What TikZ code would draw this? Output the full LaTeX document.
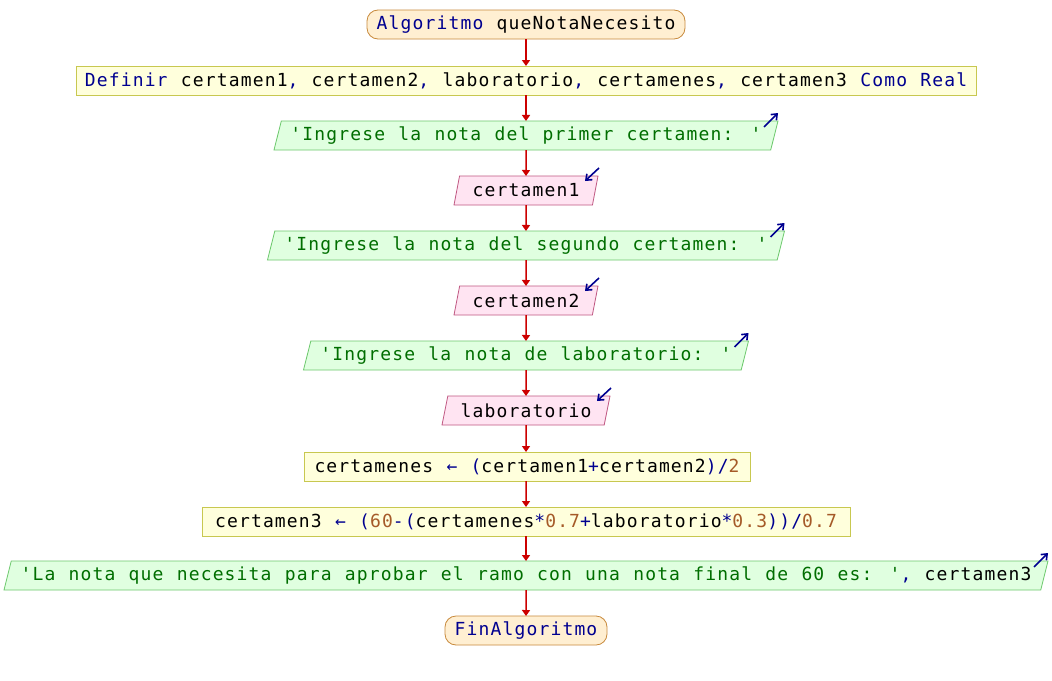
\documentclass[tikz,border=0pt]{standalone}
\usepackage{fontspec}
\newfontfamily\codefont{DejaVu Sans Mono}[LetterSpace=6.4,WordSpace=1.107]
\usetikzlibrary{shapes.geometric,arrows.meta,calc}

\definecolor{kwblue}{HTML}{000090}
\definecolor{strgreen}{HTML}{006E00}
\definecolor{numbrown}{HTML}{A55A28}
\definecolor{flowred}{HTML}{CC0000}
\definecolor{termfill}{HTML}{FFEFD2}
\definecolor{termborder}{HTML}{C88A3C}
\definecolor{procfill}{HTML}{FFFFDC}
\definecolor{procborder}{HTML}{C8C850}
\definecolor{outfill}{HTML}{E0FFE0}
\definecolor{outborder}{HTML}{6CC86C}
\definecolor{infill}{HTML}{FFE4F2}
\definecolor{inborder}{HTML}{C05882}

\newcommand{\kw}[1]{\textcolor{kwblue}{#1}}
\newcommand{\str}[1]{\textcolor{strgreen}{#1}}
\newcommand{\num}[1]{\textcolor{numbrown}{#1}}

\tikzset{
  base/.style={font=\codefont\fontsize{18}{20}\selectfont, inner sep=0pt,
    outer sep=0pt, minimum height=29pt, line width=0.8pt},
  terminal/.style={base, rectangle, rounded corners=11pt, draw=termborder,
    fill=termfill, text=kwblue},
  process/.style={base, rectangle, draw=procborder, fill=procfill},
  outbox/.style={base, trapezium, trapezium left angle=67.5,
    trapezium right angle=112.5, trapezium stretches body,
    draw=outborder, fill=outfill},
  inbox/.style={base, trapezium, trapezium left angle=67.5,
    trapezium right angle=112.5, trapezium stretches body,
    draw=inborder, fill=infill},
  flow/.style={draw=flowred, line width=1.5pt,
    -{Triangle[length=6pt,width=8pt]}},
  ioicon/.style={draw=kwblue, line width=1.6pt,
    -{Straight Barb[length=5pt,width=8pt,line width=1.6pt]}},
}

\begin{document}
\begin{tikzpicture}[x=1pt,y=-1pt]
\useasboundingbox[fill=white] (0,0) rectangle (1052,680);

\node[terminal, minimum width=318pt] (start) at (526,24.5) {Algoritmo \textcolor{black}{queNotaNecesito}};
\node[process, minimum width=900pt] (def) at (526,80.5)
  {\kw{Definir} certamen1\kw{,} certamen2\kw{,} laboratorio\kw{,} certamenes\kw{,} certamen3 \kw{Como Real}};
\node[outbox, minimum width=504pt] (out1) at (526,135.5) {\str{'Ingrese la nota del primer certamen: '}};
\node[inbox, minimum width=144pt] (in1) at (526,190.5) {certamen1};
\node[outbox, minimum width=517pt] (out2) at (526,245.5) {\str{'Ingrese la nota del segundo certamen: '}};
\node[inbox, minimum width=144pt] (in2) at (526,300.5) {certamen2};
\node[outbox, minimum width=445pt] (out3) at (526,355.5) {\str{'Ingrese la nota de laboratorio: '}};
\node[inbox, minimum width=168pt] (in3) at (526,410.5) {laboratorio};
\node[process, minimum width=446pt] (as1) at (527,466.5)
  {certamenes \kw{← (}certamen1\kw{+}certamen2\kw{)/}\num{2}};
\node[process, minimum width=648pt] (as2) at (526,521.5)
  {certamen3 \kw{← (}\num{60}\kw{-(}certamenes\kw{*}\num{0.7}\kw{+}laboratorio\kw{*}\num{0.3}\kw{))/}\num{0.7}};
\node[outbox, minimum width=1044pt] (out4) at (526,575.5)
  {\str{'La nota que necesita para aprobar el ramo con una nota final de 60 es: '}\kw{,} certamen3};
\node[terminal, minimum width=162pt] (end) at (526,630.5) {FinAlgoritmo};

% flow connectors
\draw[flow] (start) -- (def);
\draw[flow] (def) -- (out1);
\draw[flow] (out1) -- (in1);
\draw[flow] (in1) -- (out2);
\draw[flow] (out2) -- (in2);
\draw[flow] (in2) -- (out3);
\draw[flow] (out3) -- (in3);
\draw[flow] (in3) -- (as1.north -| in3.south);
\draw[flow] (as1.south -| in3.south) -- (as2);
\draw[flow] (as2) -- (out4);
\draw[flow] (out4) -- (end);

% output / input markers
\foreach \n in {out1,out2,out3,out4}
  \draw[ioicon] ($(\n.top right corner)+(-14,6)$) -- ($(\n.top right corner)+(0,-8)$);
\foreach \n in {in1,in2,in3}
  \draw[ioicon] ($(\n.top right corner)+(1,-8)$) -- ($(\n.top right corner)+(-13,5)$);
\end{tikzpicture}
\end{document}
